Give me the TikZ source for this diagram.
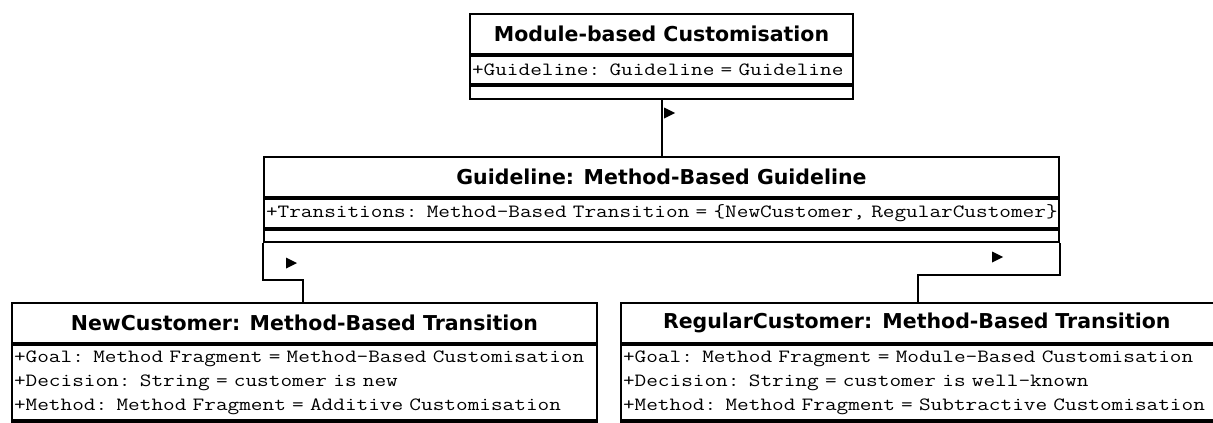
\documentclass[tikz,border=0pt]{standalone}
\usepackage{fontspec}
\setmainfont{DejaVu Sans}
\newfontfamily\attrfont{Latin Modern Mono}[FakeStretch=1.21,WordSpace=1.21]
\begin{document}
\begin{tikzpicture}[x=1pt,y=-1pt,
  umlbox/.style={draw, line width=2pt, inner sep=0pt, anchor=north west},
  titlebox/.style={umlbox, font=\bfseries\fontsize{20.5}{24}\selectfont},
  attrbox/.style={umlbox, align=left, font=\attrfont\fontsize{18.7}{24}\selectfont},
  conn/.style={line width=2pt},
  navmark/.pic={\fill (0,-5.5) -- (11,0) -- (0,5.5) -- cycle;}
]
\useasboundingbox (0,0) rectangle (1213,423);
\clip (0,0) rectangle (1213,423);

% Module-based Customisation
\node[titlebox, minimum width=383pt, minimum height=40pt] (mbc) at (469,13) {Module-based Customisation};
\node[attrbox, minimum width=383pt, minimum height=28pt, text width=379pt] (mbcA) at (mbc.south west) {\mbox{+Guideline: Guideline = Guideline}};
\node[umlbox, minimum width=383pt, minimum height=13pt] (mbcO) at (mbcA.south west) {};

% Guideline: Method-Based Guideline
\node[titlebox, minimum width=795pt, minimum height=40pt] (gl) at (263,156) {Guideline: Method-Based Guideline};
\node[attrbox, minimum width=795pt, minimum height=29pt, text width=791pt] (glA) at (gl.south west) {\mbox{+Transitions: Method-Based Transition = \{NewCustomer, RegularCustomer\}}};
\node[umlbox, minimum width=795pt, minimum height=12pt] (glO) at (glA.south west) {};

% NewCustomer: Method-Based Transition
\node[titlebox, minimum width=585pt, minimum height=40pt] (nc) at (11,302) {NewCustomer: Method-Based Transition};
\node[attrbox, minimum width=585pt, minimum height=75pt, text width=581pt] (ncA) at (nc.south west) {\mbox{+Goal: Method Fragment = Method-Based Customisation}\\\mbox{+Decision: String = customer is new}\\\mbox{+Method: Method Fragment = Additive Customisation}};
\node[umlbox, minimum width=585pt, minimum height=20pt] (ncO) at (ncA.south west) {};

% RegularCustomer: Method-Based Transition
\node[titlebox, minimum width=620pt, minimum height=40pt, text width=600pt, align=left] (rc) at (620,302) {\hspace*{32pt}RegularCustomer: Method-Based Transition};
\node[attrbox, minimum width=620pt, minimum height=75pt, text width=616pt] (rcA) at (rc.south west) {\mbox{+Goal: Method Fragment = Module-Based Customisation}\\\mbox{+Decision: String = customer is well-known}\\\mbox{+Method: Method Fragment = Subtractive Customisation}};
\node[umlbox, minimum width=620pt, minimum height=20pt] (rcO) at (rcA.south west) {};

% associations
\draw[conn] (mbcO.south) -- (mbcO.south |- gl.north);
\draw[conn] (glO.south west) -- ++(0,37) -| (nc.north west -| 303,0);
\draw[conn] (glO.south east) -- ++(0,32) -| (rc.north west -| 918,0);

% navigation markers
\coordinate (m1) at (664,113);
\coordinate (m2) at (286,263);
\coordinate (m3) at (992,257);
\pic at (m1) {navmark};
\pic at (m2) {navmark};
\pic at (m3) {navmark};
\end{tikzpicture}
\end{document}
